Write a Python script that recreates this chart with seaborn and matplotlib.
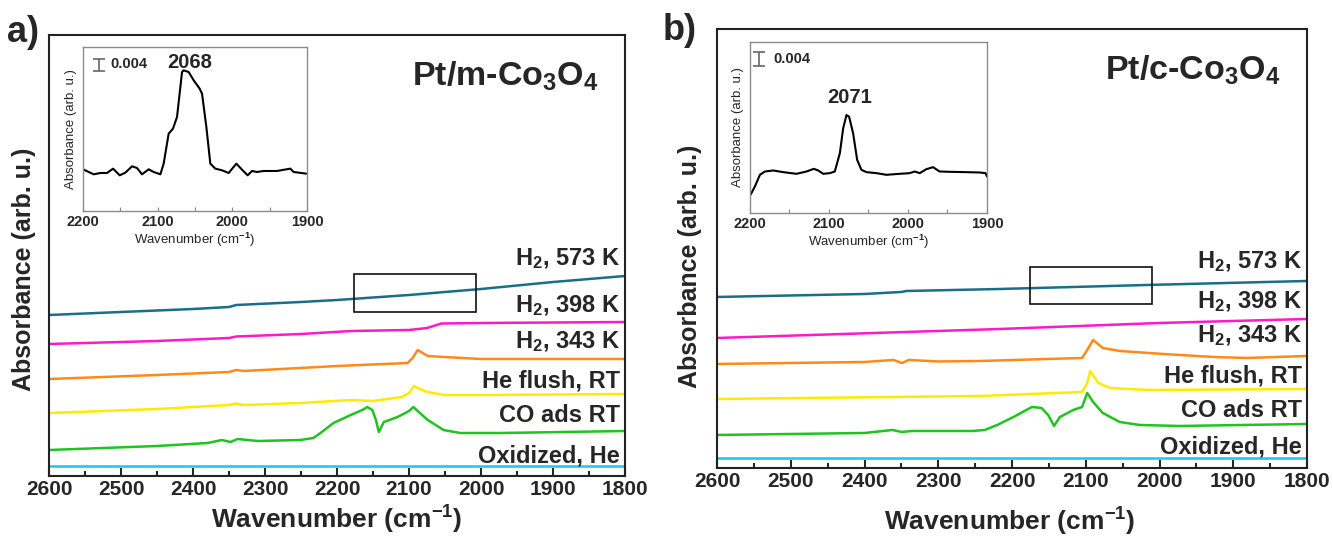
import numpy as np
import pandas as pd
import seaborn as sns
import matplotlib.pyplot as plt
from matplotlib.patches import Rectangle
from matplotlib.ticker import MultipleLocator

# ---- values (wavenumber in cm-1, absorbance in arb. u. incl. stacking offset)
series_names = ['Oxidized, He', 'CO ads RT', 'He flush, RT',
                r'H$_2$, 343 K', r'H$_2$, 398 K', r'H$_2$, 573 K']
series_colors = ['#1ec3ee', '#1fc41f', '#ffea00', '#ff8a1a', '#ff19c9', '#1a6e85']

# panel a  (Pt/m-Co3O4)
a_ox_x = [2600, 2200, 1800]
a_ox_y = [0.10, 0.10, 0.10]
a_co_x = [2600, 2450, 2380, 2360, 2348, 2338, 2310, 2251, 2233, 2223, 2205, 2181, 2165, 2158,
          2151, 2146, 2142, 2135, 2116, 2100, 2094, 2085, 2074, 2052, 2029, 1973, 1800]
a_co_y = [0.26, 0.30, 0.33, 0.36, 0.34, 0.37, 0.35, 0.36, 0.38, 0.43, 0.53, 0.61, 0.66, 0.69,
          0.66, 0.56, 0.44, 0.54, 0.59, 0.65, 0.69, 0.63, 0.56, 0.46, 0.43, 0.43, 0.45]
a_he_x = [2600, 2450, 2350, 2340, 2330, 2251, 2180, 2150, 2110, 2100, 2093, 2085, 2075, 2050, 2000, 1800]
a_he_y = [0.63, 0.67, 0.71, 0.725, 0.71, 0.73, 0.76, 0.75, 0.79, 0.83, 0.90, 0.87, 0.84, 0.81, 0.81, 0.82]
a_343_x = [2600, 2450, 2350, 2340, 2330, 2251, 2200, 2102, 2095, 2088, 2074, 2052, 2000, 1800]
a_343_y = [0.97, 1.01, 1.04, 1.06, 1.05, 1.08, 1.10, 1.13, 1.18, 1.26, 1.20, 1.19, 1.17, 1.17]
a_398_x = [2600, 2450, 2350, 2340, 2250, 2180, 2100, 2075, 2055, 2000, 1800]
a_398_y = [1.32, 1.35, 1.38, 1.395, 1.42, 1.45, 1.46, 1.48, 1.525, 1.53, 1.54]
a_573_x = [2600, 2500, 2400, 2350, 2340, 2250, 2200, 2100, 2000, 1900, 1800]
a_573_y = [1.61, 1.64, 1.67, 1.69, 1.71, 1.74, 1.76, 1.81, 1.87, 1.94, 2.00]

# panel b  (Pt/c-Co3O4)
b_ox_x = [2600, 2200, 1800]
b_ox_y = [0.10, 0.10, 0.10]
b_co_x = [2600, 2400, 2362, 2350, 2335, 2253, 2237, 2220, 2198, 2173, 2160, 2151, 2143, 2135,
          2117, 2105, 2098, 2090, 2077, 2054, 2027, 1973, 1800]
b_co_y = [0.33, 0.35, 0.38, 0.36, 0.37, 0.37, 0.38, 0.43, 0.51, 0.61, 0.60, 0.53, 0.42, 0.51,
          0.58, 0.61, 0.75, 0.66, 0.55, 0.46, 0.43, 0.42, 0.44]
b_he_x = [2600, 2243, 2105, 2098, 2094, 2083, 2067, 2017, 1800]
b_he_y = [0.69, 0.72, 0.76, 0.85, 0.97, 0.85, 0.80, 0.78, 0.79]
b_343_x = [2600, 2400, 2361, 2349, 2340, 2300, 2243, 2105, 2098, 2090, 2077, 2054, 1995, 1927, 1881, 1800]
b_343_y = [1.04, 1.06, 1.08, 1.05, 1.08, 1.065, 1.07, 1.10, 1.18, 1.28, 1.20, 1.17, 1.14, 1.11, 1.10, 1.12]
b_398_x = [2600, 2343, 2216, 2000, 1800]
b_398_y = [1.30, 1.36, 1.39, 1.45, 1.49]
b_573_x = [2600, 2400, 2350, 2343, 2216, 2017, 1800]
b_573_y = [1.71, 1.74, 1.76, 1.77, 1.79, 1.83, 1.87]

# insets (2200-1900 cm-1 zoom of the H2 573 K spectrum)
ia_x = [2199.1, 2192.4, 2185.7, 2176.8, 2167.9, 2159.8, 2150.9, 2143.3, 2134.4, 2127.7, 2121.0,
        2112.1, 2105.4, 2096.4, 2092.0, 2085.3, 2079.5, 2074.1, 2067.4, 2065.2, 2058.5, 2051.8,
        2043.8, 2040.6, 2034.8, 2029.5, 2022.8, 2013.8, 2004.9, 1994.6, 1987.1, 1979.5, 1973.7,
        1967.0, 1958.1, 1940.2, 1922.3, 1917.9, 1900.9]
ia_y = [1.24, 1.17, 1.10, 1.14, 1.14, 1.27, 1.07, 1.15, 1.34, 1.29, 1.10,
        1.25, 1.17, 1.10, 1.42, 2.32, 2.47, 2.82, 4.17, 4.22, 4.17, 3.92,
        3.67, 3.52, 2.52, 1.42, 1.27, 1.22, 1.14, 1.42, 1.24, 1.07, 1.20,
        1.17, 1.20, 1.20, 1.27, 1.17, 1.12]
ib_x = [2199.2, 2193.7, 2187.4, 2181.0, 2170.5, 2157.9, 2141.0, 2128.4, 2119.1, 2113.6, 2107.3,
        2098.9, 2092.6, 2086.2, 2082.0, 2077.8, 2074.5, 2069.4, 2064.3, 2058.9, 2052.5, 2039.9,
        2027.3, 2010.4, 1997.8, 1991.5, 1985.1, 1976.7, 1968.3, 1959.9, 1947.2, 1926.2, 1909.3,
        1901.8, 1900.0]
ib_y = [0.55, 0.80, 1.15, 1.25, 1.28, 1.23, 1.18, 1.25, 1.33, 1.28, 1.18,
        1.20, 1.25, 1.80, 2.55, 2.95, 2.90, 2.40, 1.60, 1.30, 1.23, 1.20,
        1.15, 1.18, 1.20, 1.25, 1.20, 1.32, 1.38, 1.25, 1.24, 1.23, 1.22,
        1.20, 1.10]

peak_a = '2068'
peak_b = '2071'
scale_label = '0.004'


def set_style():
    sns.set_style("ticks")
    plt.rcParams.update({
        'font.family': ['Liberation Sans', 'DejaVu Sans'],
        'font.weight': 'bold',
        'mathtext.fontset': 'custom',
        'mathtext.rm': 'Liberation Sans:bold',
        'mathtext.it': 'Liberation Sans:bold',
        'mathtext.bf': 'Liberation Sans:bold',
        'mathtext.sf': 'Liberation Sans:bold',
        'axes.linewidth': 1.5,
        'axes.edgecolor': '#222222',
    })


def make_frame(xs, ys):
    rows = []
    for name, x, y in zip(series_names, xs, ys):
        rows.append(pd.DataFrame({'wn': x, 'abs': y, 'sample': name}))
    return pd.concat(rows, ignore_index=True)


def plot_main(ax, df, title, label_y, box):
    sns.lineplot(data=df, x='wn', y='abs', hue='sample', palette=series_colors,
                 hue_order=series_names, estimator=None, sort=True, lw=1.8,
                 legend=False, ax=ax)
    ax.set_xlim(2600, 1800)
    ax.set_yticks([])
    ax.set_xlabel('')
    ax.set_ylabel('')
    ax.xaxis.set_major_locator(MultipleLocator(100))
    ax.xaxis.set_minor_locator(MultipleLocator(50))
    ax.tick_params(axis='x', which='major', direction='in', length=6, width=1.5,
                   labelsize=15, pad=3)
    ax.tick_params(axis='x', which='minor', direction='in', length=3.5, width=1.5)
    for t in ax.get_xticklabels():
        t.set_fontweight('bold')
    for spine in ax.spines.values():
        spine.set_visible(True)
        spine.set_linewidth(1.5)
    for name, yv in zip(series_names, label_y):
        ax.text(1807, yv, name, ha='right', va='baseline', fontsize=17, fontweight='bold')
    ax.text(0.955, 0.885, title, transform=ax.transAxes, ha='right', va='baseline',
            fontsize=24.5, fontweight='bold')
    x0, x1, y0, y1 = box
    ax.add_patch(Rectangle((x0, y0), x1 - x0, y1 - y0, fill=False, ec='#111111', lw=1.2, zorder=5))


def plot_inset(ax, x, y, ymax, peak, peak_pos, bar_pos, scale_pos):
    sns.lineplot(x=x, y=y, color='black', lw=1.5, estimator=None, ax=ax)
    ax.set_xlim(2200, 1900)
    ax.set_ylim(0, ymax)
    ax.set_yticks([])
    ax.set_xticks([2200, 2100, 2000, 1900])
    ax.xaxis.set_minor_locator(MultipleLocator(50))
    ax.tick_params(axis='x', which='both', direction='in', length=3, width=0.8,
                   color='#888888', labelsize=10.5, pad=3)
    for t in ax.get_xticklabels():
        t.set_fontweight('bold')
    for spine in ax.spines.values():
        spine.set_visible(True)
        spine.set_color('#8c8c8c')
        spine.set_linewidth(1.0)
    ax.set_xlabel(r'Wavenumber (cm$^{-1}$)', fontsize=9.5, fontweight='normal', labelpad=1)
    ax.set_ylabel('Absorbance (arb. u.)', fontsize=9.5, fontweight='normal', labelpad=4)
    ax.errorbar([bar_pos[0]], [bar_pos[1]], yerr=[bar_pos[2]], transform=ax.transAxes,
                color='#666666', capsize=4, lw=1.2, capthick=1.2)
    ax.text(scale_pos[0], scale_pos[1], scale_label, transform=ax.transAxes,
            ha='left', va='baseline', fontsize=10.5, fontweight='bold')
    ax.text(peak_pos[0], peak_pos[1], peak, transform=ax.transAxes,
            ha='center', va='baseline', fontsize=14.5, fontweight='bold')


def main():
    set_style()
    fig = plt.figure(figsize=(13.33, 5.46), dpi=100)

    ax_a = fig.add_axes([0.0368, 0.1282, 0.4321, 0.8077])
    ax_b = fig.add_axes([0.5379, 0.1429, 0.4426, 0.8040])

    df_a = make_frame([a_ox_x, a_co_x, a_he_x, a_343_x, a_398_x, a_573_x],
                      [a_ox_y, a_co_y, a_he_y, a_343_y, a_398_y, a_573_y])
    df_b = make_frame([b_ox_x, b_co_x, b_he_x, b_343_x, b_398_x, b_573_x],
                      [b_ox_y, b_co_y, b_he_y, b_343_y, b_398_y, b_573_y])

    plot_main(ax_a, df_a, r'Pt/m-Co$_3$O$_4$', [0.14, 0.54, 0.89, 1.28, 1.64, 2.11],
              (2176, 2007, 1.64, 2.02))
    ax_a.set_ylim(0, 4.41)
    plot_main(ax_b, df_b, r'Pt/c-Co$_3$O$_4$', [0.14, 0.51, 0.85, 1.26, 1.60, 2.00],
              (2176, 2010, 1.64, 2.01))
    ax_b.set_ylim(0, 4.39)

    ins_a = fig.add_axes([0.0623, 0.6136, 0.1680, 0.3003])
    plot_inset(ins_a, ia_x, ia_y, 4.92, peak_a, (0.478, 0.872), (0.071, 0.89, 0.035), (0.12, 0.872))
    ins_b = fig.add_axes([0.5626, 0.6099, 0.1778, 0.3132])
    plot_inset(ins_b, ib_x, ib_y, 5.15, peak_b, (0.42, 0.643), (0.04, 0.90, 0.04), (0.097, 0.877))

    fig.text(337 / 1333, 1 - 520 / 546, r'Wavenumber (cm$^{-1}$)', ha='center', va='center',
             fontsize=19, fontweight='bold')
    fig.text(1010 / 1333, 1 - 522 / 546, r'Wavenumber (cm$^{-1}$)', ha='center', va='center',
             fontsize=19, fontweight='bold')
    fig.text(24 / 1333, 1 - 269 / 546, 'Absorbance (arb. u.)', ha='center', va='center',
             rotation=90, fontsize=18, fontweight='bold')
    fig.text(690 / 1333, 1 - 266 / 546, 'Absorbance (arb. u.)', ha='center', va='center',
             rotation=90, fontsize=18, fontweight='bold')

    fig.text(0.005, 1 - 33 / 546, 'a)', ha='left', va='center', fontsize=26, fontweight='bold')
    fig.text(0.497, 1 - 31 / 546, 'b)', ha='left', va='center', fontsize=26, fontweight='bold')

    fig.savefig('out.png', dpi=100)


if __name__ == "__main__":
    main()
